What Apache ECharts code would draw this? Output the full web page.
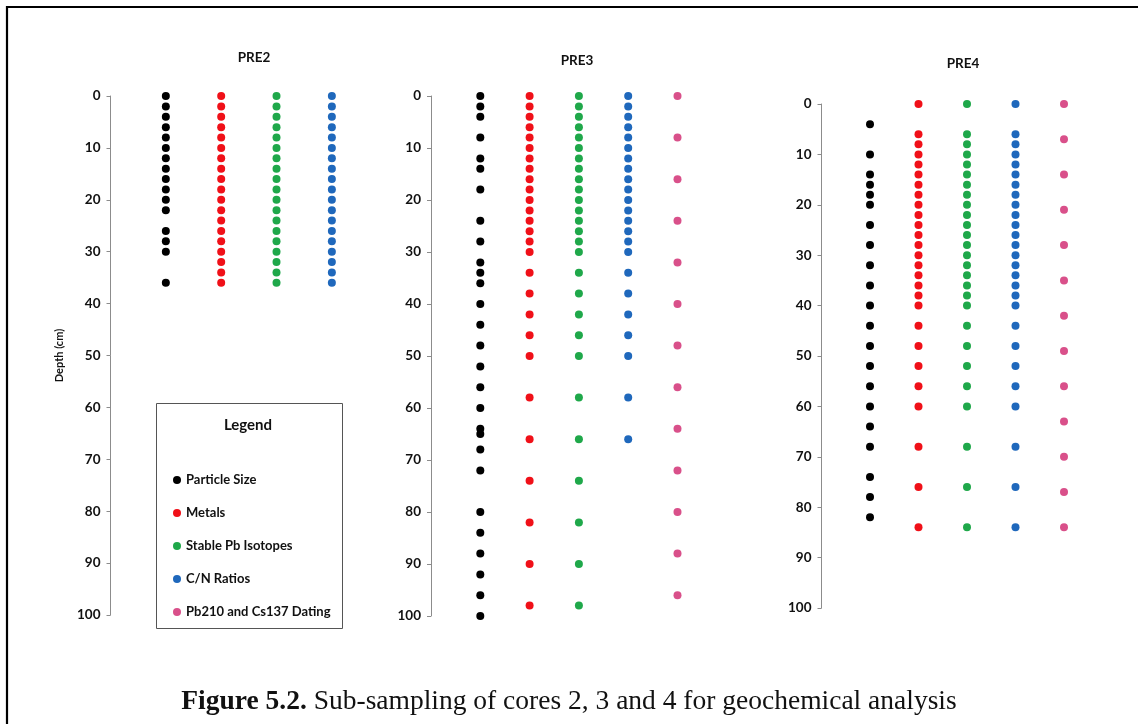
<!DOCTYPE html>
<html>
<head>
<meta charset="utf-8">
<script src="https://cdn.jsdelivr.net/npm/echarts@6/dist/echarts.min.js"></script>
<style>
html,body{margin:0;padding:0;background:#fff;}
#c{width:1138px;height:724px;}
</style>
</head>
<body>
<div id="c"></div>
<script>
// ---- data (depths in cm) ----
const seriesNames = ['Particle Size', 'Metals', 'Stable Pb Isotopes', 'C/N Ratios', 'Pb210 and Cs137 Dating'];
const seriesColors = ['#000000', '#f01018', '#1fa84a', '#1f68bc', '#d9508a'];
const coreNames = ['PRE2', 'PRE3', 'PRE4'];

const pre2ParticleSize = [0, 2, 4, 6, 8, 10, 12, 14, 16, 18, 20, 22, 26, 28, 30, 36];
const pre2Metals = [0, 2, 4, 6, 8, 10, 12, 14, 16, 18, 20, 22, 24, 26, 28, 30, 32, 34, 36];
const pre2PbIsotopes = [0, 2, 4, 6, 8, 10, 12, 14, 16, 18, 20, 22, 24, 26, 28, 30, 32, 34, 36];
const pre2CNRatios = [0, 2, 4, 6, 8, 10, 12, 14, 16, 18, 20, 22, 24, 26, 28, 30, 32, 34, 36];

const pre3ParticleSize = [0, 2, 4, 8, 12, 14, 18, 24, 28, 32, 34, 36, 40, 44, 48, 52, 56, 60, 64, 65, 68, 72, 80, 84, 88, 92, 96, 100];
const pre3Metals = [0, 2, 4, 6, 8, 10, 12, 14, 16, 18, 20, 22, 24, 26, 28, 30, 34, 38, 42, 46, 50, 58, 66, 74, 82, 90, 98];
const pre3PbIsotopes = [0, 2, 4, 6, 8, 10, 12, 14, 16, 18, 20, 22, 24, 26, 28, 30, 34, 38, 42, 46, 50, 58, 66, 74, 82, 90, 98];
const pre3CNRatios = [0, 2, 4, 6, 8, 10, 12, 14, 16, 18, 20, 22, 24, 26, 28, 30, 34, 38, 42, 46, 50, 58, 66];
const pre3Dating = [0, 8, 16, 24, 32, 40, 48, 56, 64, 72, 80, 88, 96];

const pre4ParticleSize = [4, 10, 14, 16, 18, 20, 24, 28, 32, 36, 40, 44, 48, 52, 56, 60, 64, 68, 74, 78, 82];
const pre4Metals = [0, 6, 8, 10, 12, 14, 16, 18, 20, 22, 24, 26, 28, 30, 32, 34, 36, 38, 40, 44, 48, 52, 56, 60, 68, 76, 84];
const pre4PbIsotopes = [0, 6, 8, 10, 12, 14, 16, 18, 20, 22, 24, 26, 28, 30, 32, 34, 36, 38, 40, 44, 48, 52, 56, 60, 68, 76, 84];
const pre4CNRatios = [0, 6, 8, 10, 12, 14, 16, 18, 20, 22, 24, 26, 28, 30, 32, 34, 36, 38, 40, 44, 48, 52, 56, 60, 68, 76, 84];
const pre4Dating = [0, 7, 14, 21, 28, 35, 42, 49, 56, 63, 70, 77, 84];

const depthMin = 0, depthMax = 100, depthStep = 10;
const yAxisTitle = 'Depth (cm)';
const legendTitle = 'Legend';
const captionBold = 'Figure 5.2.';
const captionText = ' Sub-sampling of cores 2, 3 and 4 for geochemical analysis';

const cores = [
  [pre2ParticleSize, pre2Metals, pre2PbIsotopes, pre2CNRatios],
  [pre3ParticleSize, pre3Metals, pre3PbIsotopes, pre3CNRatios, pre3Dating],
  [pre4ParticleSize, pre4Metals, pre4PbIsotopes, pre4CNRatios, pre4Dating]
];

// ---- layout ----
const FONT = 'Lato, "Open Sans", sans-serif';
const grids = [
  {left: 110.5, top: 96, width: 276.7, height: 519, xMax: 5, titleX: 254, titleTop: 51},
  {left: 431, top: 96, width: 295.8, height: 520, xMax: 6, titleX: 577, titleTop: 54},
  {left: 821.5, top: 104, width: 291, height: 504, xMax: 6, titleX: 963, titleTop: 57}
];

const chart = echarts.init(document.getElementById('c'), null, {renderer: 'canvas'});

const series = [];
cores.forEach((core, gi) => {
  core.forEach((depths, si) => {
    series.push({
      type: 'scatter',
      name: seriesNames[si],
      xAxisIndex: gi,
      yAxisIndex: gi,
      symbol: 'circle',
      symbolSize: 8,
      itemStyle: {color: seriesColors[si], opacity: 1},
      emphasis: {disabled: true},
      data: depths.map(d => [si + 1, d])
    });
  });
});

const option = {
  animation: false,
  backgroundColor: '#ffffff',
  title: grids.map((g, i) => ({
    text: coreNames[i],
    left: g.titleX,
    top: g.titleTop,
    textAlign: 'center',
    padding: 0,
    textStyle: {fontFamily: FONT, fontWeight: 'bold', fontSize: 13.5, color: '#111'}
  })).concat([{
    text: '{b|' + captionBold + '}' + captionText,
    left: 'center',
    top: 688,
    padding: 0,
    textStyle: {
      fontFamily: '"Liberation Serif", "Times New Roman", serif',
      fontSize: 27.5, fontWeight: 'normal', color: '#111',
      rich: {b: {fontFamily: '"Liberation Serif", "Times New Roman", serif', fontSize: 27.5, fontWeight: 'bold', color: '#111'}}
    }
  }]),
  grid: grids.map(g => ({left: g.left, top: g.top, width: g.width, height: g.height, containLabel: false})),
  xAxis: grids.map((g, i) => ({
    type: 'value', gridIndex: i, min: 0, max: g.xMax, show: false
  })),
  yAxis: grids.map((g, i) => ({
    type: 'value', gridIndex: i, inverse: true,
    min: depthMin, max: depthMax, interval: depthStep,
    name: i === 0 ? yAxisTitle : '',
    nameLocation: 'middle', nameRotate: 90, nameGap: 46,
    nameTextStyle: {fontFamily: FONT, fontWeight: 'bold', fontSize: 11, color: '#111'},
    axisLine: {show: true, lineStyle: {color: '#8c8c8c', width: 1}},
    axisTick: {show: true, inside: false, length: 4, lineStyle: {color: '#8c8c8c'}},
    axisLabel: {margin: 10, fontFamily: FONT, fontWeight: 'bold', fontSize: 13.5, color: '#111'},
    splitLine: {show: false}
  })),
  legend: {
    orient: 'vertical',
    left: 168,
    top: 468,
    itemWidth: 8, itemHeight: 8,
    itemGap: 19,
    icon: 'circle',
    data: seriesNames,
    selectedMode: false,
    textStyle: {fontFamily: FONT, fontWeight: 'bold', fontSize: 13, color: '#111', lineHeight: 14}
  },
  graphic: [
    {type: 'polyline', silent: true, z: 100,
      shape: {points: [[7, 740], [7, 7], [1150, 7]]},
      style: {stroke: '#000', lineWidth: 2.2, fill: null}},
    {type: 'rect', silent: true, z: -1,
      shape: {x: 156.5, y: 403.5, width: 186, height: 225},
      style: {stroke: '#555', lineWidth: 1, fill: '#fff'}},
    {type: 'text', silent: true, z: 10,
      x: 248, y: 425,
      style: {text: legendTitle, fontFamily: FONT, fontWeight: 'bold', fontSize: 15, fill: '#111', align: 'center', verticalAlign: 'middle'}}
  ],
  series: series
};
chart.setOption(option);
</script>
</body>
</html>
